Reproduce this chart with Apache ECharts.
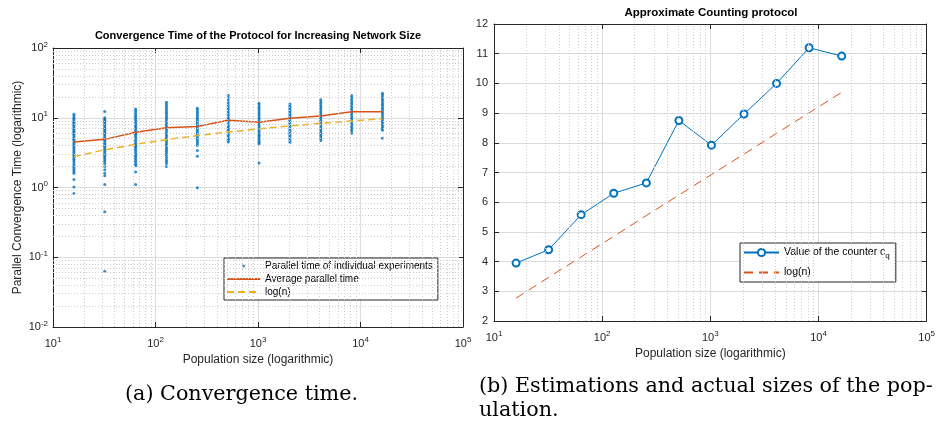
<!DOCTYPE html>
<html><head><meta charset="utf-8">
<script src="https://cdn.jsdelivr.net/npm/echarts@6/dist/echarts.min.js"></script>
<style>html,body{margin:0;padding:0;background:#fff}#c{width:938px;height:430px}</style>
</head><body><div id="c"></div><script>
// ---- data ----
const populationSizes = [16, 32, 64, 128, 256, 512, 1024, 2048, 4096, 8192, 16384];
const avgParallelTime = [4.5, 4.9, 6.2, 7.2, 7.5, 9.2, 8.6, 9.8, 10.6, 12.2, 12.2];
const logNValues = [2.77, 3.47, 4.16, 4.85, 5.55, 6.24, 6.93, 7.62, 8.32, 9.01, 9.70];
const counterValues = [3.95, 4.4, 5.58, 6.3, 6.65, 8.75, 7.92, 8.97, 10.0, 11.2, 10.92];

const times16 = [11.2, 10.6, 10.0, 9.5, 9.0, 8.6, 8.2, 7.8, 7.4, 7.0, 6.7, 6.4, 6.1, 5.8, 5.5, 5.2, 4.9, 4.7, 4.4, 4.2, 4.0, 3.8, 3.6, 3.4, 3.2, 3.0, 2.85, 2.7, 2.55, 2.4, 2.25, 2.1, 2.0, 1.9, 1.8, 1.7, 1.6, 1.3, 1.02, 0.82];
const times32 = [12.3, 10.0, 9.6, 9.2, 8.8, 8.4, 8.0, 7.6, 7.2, 6.9, 6.6, 6.3, 6.0, 5.7, 5.4, 5.1, 4.8, 4.6, 4.3, 4.1, 3.9, 3.7, 3.5, 3.3, 3.1, 2.95, 2.8, 2.65, 2.5, 2.35, 2.2, 2.0, 1.8, 1.6, 1.47, 1.1, 0.45, 0.063];
const times64 = [13.4, 12.6, 11.8, 11.0, 10.4, 9.8, 9.2, 8.7, 8.2, 7.7, 7.3, 6.9, 6.5, 6.1, 5.8, 5.5, 5.2, 4.9, 4.6, 4.3, 4.1, 3.9, 3.7, 3.5, 3.3, 3.1, 2.9, 2.75, 2.6, 2.45, 2.3, 2.15, 2.05, 1.67, 1.1];
const times128 = [16.7, 15.6, 14.6, 13.7, 12.8, 12.0, 11.3, 10.6, 10.0, 9.4, 8.8, 8.3, 7.8, 7.3, 6.9, 6.5, 6.1, 5.7, 5.4, 5.1, 4.8, 4.5, 4.2, 4.0, 3.7, 3.5, 3.3, 3.1, 2.9, 2.7, 2.5, 2.35, 2.2, 2.0];
const times256 = [13.7, 12.9, 12.1, 11.4, 10.7, 10.1, 9.5, 9.0, 8.5, 8.0, 7.6, 7.2, 6.8, 6.4, 6.0, 5.7, 5.4, 5.1, 4.8, 4.5, 4.25, 4.0, 3.4, 2.8, 0.99];
const times512 = [21, 19.5, 18.0, 16.6, 15.3, 14.2, 13.2, 12.3, 11.5, 10.8, 10.1, 9.5, 8.9, 8.4, 7.9, 7.4, 7.0, 6.6, 6.2, 5.8, 5.5, 5.2, 4.9, 4.7, 4.5];
const times1024 = [16.2, 15.2, 14.2, 13.3, 12.5, 11.7, 11.0, 10.3, 9.7, 9.1, 8.6, 8.1, 7.6, 7.1, 6.7, 6.3, 5.9, 5.6, 5.3, 5.0, 4.7, 4.45, 4.25, 2.25];
const times2048 = [15.8, 14.9, 14.0, 13.2, 12.4, 11.7, 11.0, 10.4, 9.8, 9.2, 8.7, 8.2, 7.7, 7.2, 6.8, 6.4, 6.0, 5.6, 5.3, 5.0, 4.7, 4.4];
const times4096 = [18.1, 17.0, 16.0, 15.0, 14.1, 13.3, 12.5, 11.8, 11.1, 10.4, 9.8, 9.2, 8.7, 8.2, 7.7, 7.2, 6.8, 6.4, 6.0, 5.6, 5.3, 5.0, 4.7];
const times8192 = [20.8, 19.6, 18.4, 17.3, 16.3, 15.3, 14.4, 13.6, 12.8, 12.0, 11.3, 10.6, 10.0, 9.4, 8.8, 8.3, 7.8, 7.3, 6.9, 6.5, 6.0];
const times16384 = [22.5, 21.2, 20.0, 18.8, 17.7, 16.6, 15.6, 14.7, 13.8, 13.0, 12.2, 11.5, 10.8, 10.1, 9.5, 8.9, 8.4, 7.9, 7.4, 7.0, 6.6, 5.1];
const experimentTimes = [times16, times32, times64, times128, times256, times512, times1024, times2048, times4096, times8192, times16384];

// minor grid positions (log decades)
const minorX = [20,30,40,50,60,70,80,90,200,300,400,500,600,700,800,900,2000,3000,4000,5000,6000,7000,8000,9000,20000,30000,40000,50000,60000,70000,80000,90000];
const minorYLog = [0.02,0.03,0.04,0.05,0.06,0.07,0.08,0.09,0.2,0.3,0.4,0.5,0.6,0.7,0.8,0.9,2,3,4,5,6,7,8,9,20,30,40,50,60,70,80,90];

// ---- build ----
const scatterData = [];
experimentTimes.forEach((arr, i) => arr.forEach(v => scatterData.push([populationSizes[i], v])));
const zip = (ys) => populationSizes.map((x, i) => [x, ys[i]]);

const FONT = '"Liberation Sans", Arial, sans-serif';
const SERIF = '20.7px "DejaVu Serif", serif';
const AX = '#262626';
const BLUE = '#0072BD', ORANGE = '#D95319', YELLOW = '#EDB120';
const supFmt = v => '10{sup|' + Math.round(Math.log10(v)) + '}';
const labelRich = {
  sup: { fontSize: 8, fontFamily: FONT, color: AX, padding: [0, 0, 7, 0] }
};
const majorSplit = { show: true, lineStyle: { color: '#dcdcdc', width: 1 } };

function logX(grid, pos, show) {
  return {
    type: 'log', logBase: 10, min: 10, max: 100000, gridIndex: grid, position: pos,
    axisLine: { show: true, lineStyle: { color: AX, width: 1 } },
    axisTick: { show: true, inside: true, length: 5, lineStyle: { color: AX } },
    axisLabel: show ? { show: true, formatter: supFmt, color: AX, fontSize: 11, fontFamily: FONT, margin: 9, rich: labelRich } : { show: false },
    splitLine: show ? majorSplit : { show: false }
  };
}
function minorLines(axis, vals) {
  return {
    silent: true, symbol: ['none', 'none'], animation: false,
    label: { show: false },
    lineStyle: { type: [1, 2], color: '#cccccc', width: 1 },
    emphasis: { disabled: true },
    data: vals.map(v => ({ [axis]: v }))
  };
}
const hideSym = { opacity: 0 };

const option = {
  backgroundColor: '#fff',
  animation: false,
  grid: [
    { left: 53, top: 48, width: 410, height: 279 },
    { left: 494, top: 24, width: 433, height: 297 }
  ],
  xAxis: [
    Object.assign(logX(0, 'bottom', true), {
      name: 'Population size (logarithmic)', nameLocation: 'middle', nameGap: 26,
      nameTextStyle: { color: AX, fontSize: 12, fontFamily: FONT }
    }),
    logX(0, 'top', false),
    Object.assign(logX(1, 'bottom', true), {
      name: 'Population size (logarithmic)', nameLocation: 'middle', nameGap: 25,
      nameTextStyle: { color: AX, fontSize: 12, fontFamily: FONT }
    }),
    logX(1, 'top', false)
  ],
  yAxis: [
    {
      type: 'log', logBase: 10, min: 0.01, max: 100, gridIndex: 0, position: 'left',
      name: 'Parallel Convergence Time (logarithmic)', nameLocation: 'middle', nameGap: 29,
      nameTextStyle: { color: AX, fontSize: 12, fontFamily: FONT },
      axisLine: { show: true, lineStyle: { color: AX } },
      axisTick: { show: true, inside: true, length: 5, lineStyle: { color: AX } },
      axisLabel: { formatter: supFmt, color: AX, fontSize: 11, fontFamily: FONT, margin: 5, rich: labelRich },
      splitLine: majorSplit
    },
    {
      type: 'log', logBase: 10, min: 0.01, max: 100, gridIndex: 0, position: 'right',
      axisLine: { show: true, lineStyle: { color: AX } },
      axisTick: { show: true, inside: true, length: 5, lineStyle: { color: AX } },
      axisLabel: { show: false }, splitLine: { show: false }
    },
    {
      type: 'value', min: 2, max: 12, interval: 1, gridIndex: 1, position: 'left',
      axisLine: { show: true, lineStyle: { color: AX } },
      axisTick: { show: true, inside: true, length: 5, lineStyle: { color: AX } },
      axisLabel: { color: AX, fontSize: 11, fontFamily: FONT, margin: 6 },
      splitLine: majorSplit
    },
    {
      type: 'value', min: 2, max: 12, interval: 1, gridIndex: 1, position: 'right',
      axisLine: { show: true, lineStyle: { color: AX } },
      axisTick: { show: true, inside: true, length: 5, lineStyle: { color: AX } },
      axisLabel: { show: false }, splitLine: { show: false }
    }
  ],
  legend: [
    {
      left: 224, top: 258, orient: 'vertical', itemWidth: 33, itemHeight: 3, itemGap: 3,
      padding: [3, 5, 3, 2], borderColor: AX, borderWidth: 1, backgroundColor: '#fff',
      textStyle: { color: '#000', fontSize: 10, fontFamily: FONT },
      data: [
        'Parallel time of individual experiments',
        { name: 'Average parallel time', itemStyle: hideSym },
        { name: 'log(n)', itemStyle: hideSym }
      ]
    },
    {
      left: 740, top: 243, orient: 'vertical', itemWidth: 35, itemHeight: 9, itemGap: 7,
      padding: [4, 6, 4, 3], borderColor: AX, borderWidth: 1, backgroundColor: '#fff',
      textStyle: { color: '#000', fontSize: 10.5, fontFamily: FONT,
        rich: { sub: { fontSize: 8, fontFamily: FONT, color: '#000', padding: [7, 0, 0, 0] } } },
      formatter: n => n === 'counter' ? 'Value of the counter c{sub|q}' : n,
      data: ['counter', { name: 'log(n) ', itemStyle: hideSym }]
    }
  ],
  graphic: [
    { type: 'text', style: { x: 258, y: 36, text: 'Convergence Time of the Protocol for Increasing Network Size', align: 'center', verticalAlign: 'middle', font: 'bold 11px ' + FONT, fill: '#000' } },
    { type: 'text', style: { x: 711, y: 13, text: 'Approximate Counting protocol', align: 'center', verticalAlign: 'middle', font: 'bold 11.5px ' + FONT, fill: '#000' } },
    { type: 'text', style: { x: 125, y: 395, text: '(a) Convergence time.', align: 'left', verticalAlign: 'middle', font: SERIF, fill: '#000' } },
    { type: 'text', style: { x: 479, y: 387, text: '(b) Estimations and actual sizes of the pop-', align: 'left', verticalAlign: 'middle', font: SERIF, fill: '#000' } },
    { type: 'text', style: { x: 479, y: 411, text: 'ulation.', align: 'left', verticalAlign: 'middle', font: SERIF, fill: '#000' } }
  ],
  series: [
    { name: 'minorL', type: 'line', xAxisIndex: 0, yAxisIndex: 0, data: [], z: 1,
      markLine: minorLines('xAxis', minorX) },
    { name: 'minorL2', type: 'line', xAxisIndex: 0, yAxisIndex: 0, data: [], z: 1,
      markLine: minorLines('yAxis', minorYLog) },
    { name: 'minorR', type: 'line', xAxisIndex: 2, yAxisIndex: 2, data: [], z: 1,
      markLine: minorLines('xAxis', minorX) },
    {
      name: 'Parallel time of individual experiments', type: 'scatter', xAxisIndex: 0, yAxisIndex: 0,
      symbol: 'circle', symbolSize: 3, itemStyle: { color: BLUE }, data: scatterData, z: 3
    },
    {
      name: 'Average parallel time', type: 'line', xAxisIndex: 0, yAxisIndex: 0,
      symbol: 'none', lineStyle: { color: ORANGE, width: 1.5 }, itemStyle: { color: ORANGE },
      data: zip(avgParallelTime), z: 4
    },
    {
      name: 'log(n)', type: 'line', xAxisIndex: 0, yAxisIndex: 0,
      symbol: 'none', lineStyle: { color: YELLOW, width: 1.5, type: [7, 4] }, itemStyle: { color: YELLOW },
      data: zip(logNValues), z: 4
    },
    {
      name: 'counter', type: 'line', xAxisIndex: 2, yAxisIndex: 2,
      symbol: 'emptyCircle', symbolSize: 7, lineStyle: { color: BLUE, width: 1 },
      itemStyle: { color: BLUE, borderWidth: 0.8 }, data: zip(counterValues), z: 4
    },
    {
      name: 'log(n) ', type: 'line', xAxisIndex: 2, yAxisIndex: 2,
      symbol: 'none', lineStyle: { color: ORANGE, width: 1, type: [9, 6] }, itemStyle: { color: ORANGE },
      data: zip(logNValues), z: 4
    }
  ]
};
const chart = echarts.init(document.getElementById('c'), null, { renderer: 'canvas' });
chart.setOption(option);
</script></body></html>
